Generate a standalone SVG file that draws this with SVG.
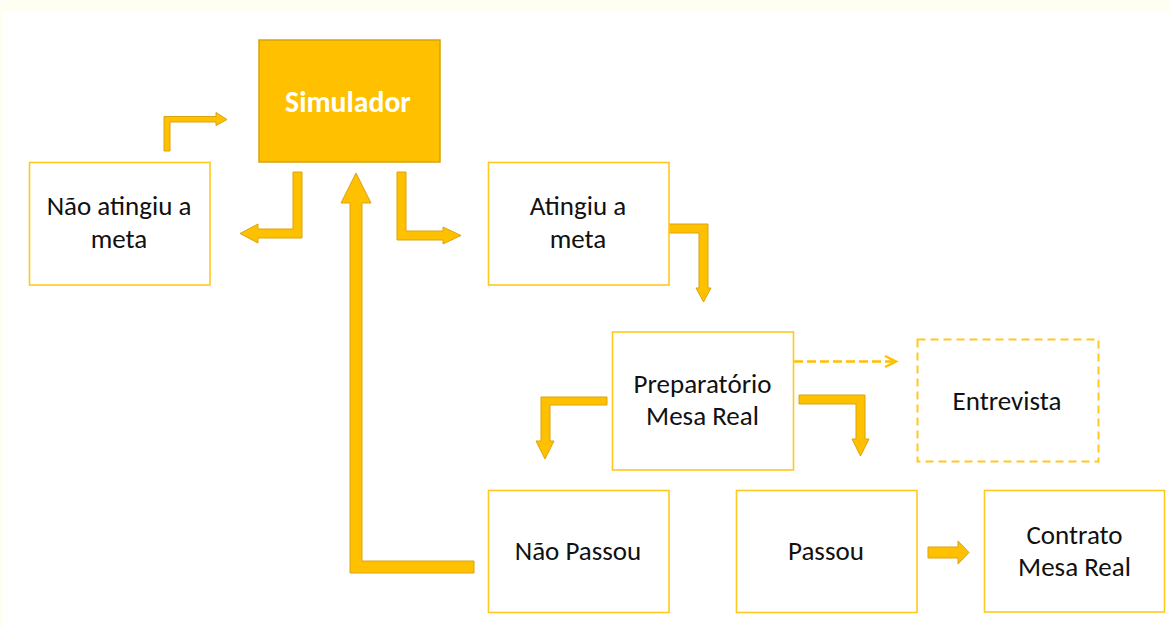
<svg xmlns="http://www.w3.org/2000/svg" width="1170" height="628" viewBox="0 0 1170 628">
<style>
.box{fill:#ffffff;stroke:#ffc81e;stroke-width:1.6}
.dash{fill:#ffffff;stroke:#ffc81e;stroke-width:2;stroke-dasharray:8 5}
.sim{fill:#ffc000;stroke:#d6a30a;stroke-width:1.5}
.t{font-family:Carlito,Calibri,Lato,"Open Sans",sans-serif;font-size:27px;fill:#111111;text-anchor:middle}
.tb{font-family:Carlito,Calibri,Lato,"Open Sans",sans-serif;font-size:29.7px;font-weight:bold;fill:#ffffff;text-anchor:middle}
.blk{fill:#ffc000;stroke:#d9a410;stroke-width:1}
</style>
<rect x="0" y="0" width="1170" height="628" fill="#fffef2"/>
<rect x="3" y="12" width="1167" height="616" fill="#ffffff"/>

<g id="connectors">
<path class="blk" d="M164,151 L164,116.5 L216,116.5 L216,112.5 L227,119.5 L216,125.5 L216,122 L170,122 L170,151 Z"/>
<path class="blk" d="M293,172 L302,172 L302,238 L258,238 L258,243 L240,233.5 L258,224 L258,229 L293,229 Z"/>
<path class="blk" d="M397,172 L406,172 L406,231 L443,231 L443,227 L461,235.5 L443,244 L443,240 L397,240 Z"/>
<path class="blk" d="M669,224 L708,224 L708,288 L711,288 L703.5,302 L696,288 L699,288 L699,233 L669,233 Z"/>
<path class="blk" d="M607,397 L607,405 L550,405 L550,441 L554,441 L545,459 L536,441 L541,441 L541,397 Z"/>
<path class="blk" d="M799,395 L865,395 L865,439 L869,439 L860.5,456 L852,439 L856,439 L856,404 L799,404 Z"/>
<path class="blk" d="M474,561 L474,573 L350,573 L350,203 L341,203 L356,173 L371,203 L362,203 L362,561 Z"/>
<path class="blk" d="M928,547 L958,547 L958,541 L969,552.5 L958,564 L958,558 L928,558 Z"/>
<line x1="794" y1="361.5" x2="894" y2="361.5" stroke="#ffc000" stroke-width="2.5" stroke-dasharray="9 4"/>
<polyline points="885,356 896,361.5 885,367" fill="none" stroke="#ffc000" stroke-width="2.5"/>
</g>

<g id="simulador">
<rect class="sim" x="259" y="40" width="181" height="122"/>
<text class="tb" x="348" y="112">Simulador</text>
</g>

<g id="nao-atingiu">
<rect class="box" x="29.5" y="162.5" width="180.5" height="122.5"/>
<text class="t" x="119" y="215">Não atingiu a</text>
<text class="t" x="119" y="247.5">meta</text>
</g>

<g id="atingiu">
<rect class="box" x="488.5" y="162.5" width="180.5" height="122.5"/>
<text class="t" x="578" y="215">Atingiu a</text>
<text class="t" x="578" y="247.5">meta</text>
</g>

<g id="preparatorio">
<rect class="box" x="612.5" y="332" width="181" height="138"/>
<text class="t" x="702.5" y="393">Preparatório</text>
<text class="t" x="702.5" y="425">Mesa Real</text>
</g>

<g id="entrevista">
<rect class="dash" x="917.5" y="339.5" width="181" height="122"/>
<text class="t" x="1007" y="410">Entrevista</text>
</g>

<g id="nao-passou">
<rect class="box" x="488.5" y="490.5" width="180.5" height="122"/>
<text class="t" x="578" y="560">Não Passou</text>
</g>

<g id="passou">
<rect class="box" x="736.5" y="490.5" width="180.5" height="122"/>
<text class="t" x="826" y="560">Passou</text>
</g>

<g id="contrato">
<rect class="box" x="984.5" y="490.5" width="180" height="121.5"/>
<text class="t" x="1074.5" y="544">Contrato</text>
<text class="t" x="1074.5" y="576">Mesa Real</text>
</g>
</svg>
